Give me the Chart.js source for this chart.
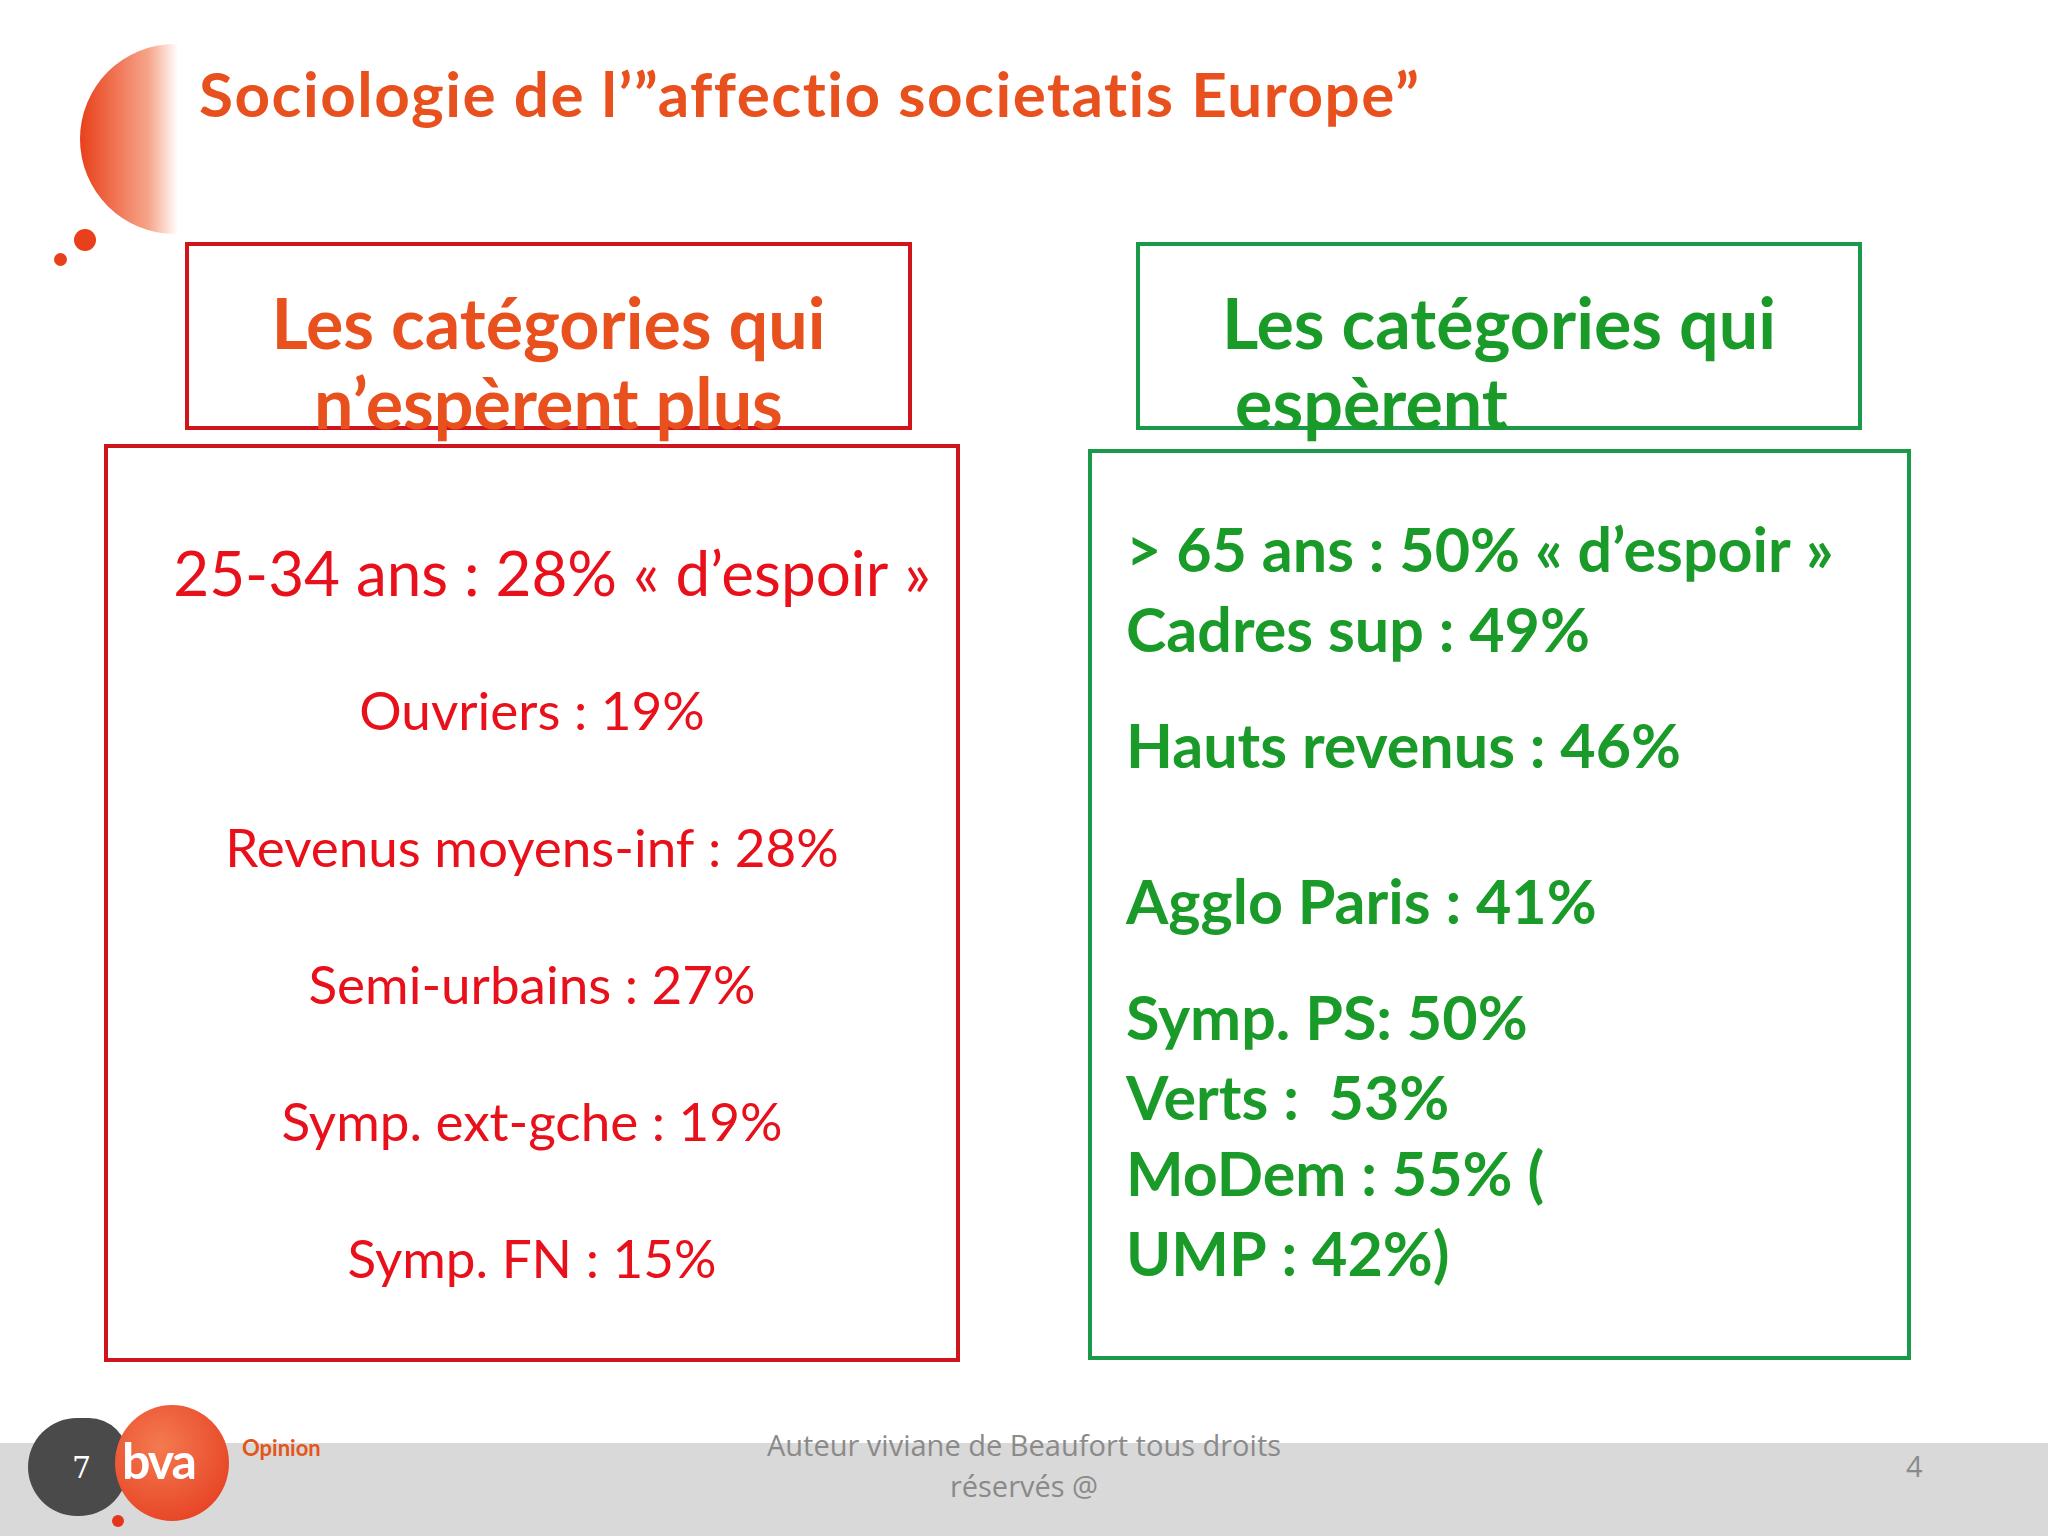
<!DOCTYPE html>
<html><head><meta charset="utf-8">
<script src="https://cdn.jsdelivr.net/npm/chart.js@4"></script>
<style>
body{margin:0;width:2048px;height:1536px;position:relative;background:#fff;font-family:Lato,"Open Sans",sans-serif;overflow:hidden}
.a{position:absolute}
.box{position:absolute;box-sizing:border-box}
</style></head><body>
<div class="a" style="left:80px;top:44px;width:98px;height:190px;border-radius:95px 0 0 95px;background:linear-gradient(90deg,#e8401a,#f6a58a 70%,#fff)"></div>
<div class="a" style="left:74px;top:229px;width:22px;height:22px;border-radius:50%;background:#e8401a"></div>
<div class="a" style="left:54px;top:253px;width:13px;height:13px;border-radius:50%;background:#e8401a"></div>
<div class="a" style="left:199px;top:56px;font-size:62px;letter-spacing:1.5px;font-weight:bold;color:#e8501e">Sociologie de l’”affectio societatis Europe”</div>

<div class="box" style="left:185px;top:242px;width:727px;height:188px;border:4px solid #d0141c"></div>
<div class="a" style="left:185px;top:282px;width:727px;text-align:center;font-size:70px;font-weight:bold;color:#e8501e;line-height:80px">Les catégories qui<br>n’espèrent plus</div>
<div class="box" style="left:1136px;top:242px;width:726px;height:188px;border:4px solid #1a9a48"></div>
<div class="a" style="left:1136px;top:282px;width:726px;text-align:center;font-size:70px;font-weight:bold;color:#1a9a28;line-height:80px">Les catégories qui</div>
<div class="a" style="left:1235px;top:362px;font-size:70px;font-weight:bold;color:#1a9a28;line-height:80px">espèrent</div>

<div class="box" style="left:104px;top:444px;width:856px;height:918px;border:4px solid #d0141c"></div>
<div class="box" style="left:1088px;top:449px;width:823px;height:911px;border:4px solid #1a9a48"></div>

<div class="a" style="left:104px;top:507px;width:856px;height:822px"><canvas id="c1"></canvas></div>
<div class="a" style="left:1088px;top:514px;width:823px;height:780px"><canvas id="c2"></canvas></div>

<div class="a" style="left:0;top:1443px;width:2048px;height:93px;background:#d9d9d9"></div>
<div class="a" style="left:0;top:1424px;width:2048px;text-align:center;font-size:29px;color:#8a8a8a;line-height:41px;font-family:'Open Sans'">Auteur viviane de Beaufort tous droits<br>réservés @</div>
<div class="a" style="left:1906px;top:1446px;font-size:29px;color:#8a8a8a;font-family:'Open Sans'">4</div>
<div class="a" style="left:28px;top:1418px;width:100px;height:98px;border-radius:50px 40px 50px 50px;background:#4a4a4a"></div>
<div class="a" style="left:72px;top:1450px;font-size:30px;color:#fff;font-family:'DejaVu Serif'">7</div>
<div class="a" style="left:115px;top:1405px;width:114px;height:116px;border-radius:50%;background:radial-gradient(circle at 40% 35%,#f47a50,#e3361a)"></div>
<div class="a" style="left:122px;top:1430px;font-size:50px;font-weight:bold;color:#fff;letter-spacing:-2px">bva</div>
<div class="a" style="left:112px;top:1515px;width:12px;height:12px;border-radius:50%;background:#e3361a"></div>
<div class="a" style="left:242px;top:1434px;font-size:22px;font-weight:bold;color:#e3561a">Opinion</div>

<script>
const leftLabels=["25-34 ans","Ouvriers","Revenus moyens-inf","Semi-urbains","Symp. ext-gche","Symp. FN"];
const leftValues=[28,19,28,27,19,15];
const leftSuffix=[" « d’espoir »","","","","",""];
const rightLabels=["> 65 ans","Cadres sup","Hauts revenus","Agglo Paris","Symp. PS","Verts","MoDem","UMP"];
const rightValues=[50,49,46,41,50,53,55,42];
const rightSep=[" : "," : "," : "," : ",": "," :  "," : "," : "];
const rightSuffix=[" « d’espoir »","","","","",""," (",")"];
const rightRow=[0,0,1,2,3,3,4,4];
const rowNames=["r1","r2","r3","r4","r5"];
const rowValues=[50,46,41,50,55];

const textPlugin={id:'txt',afterDraw(ch){
  const o=ch.options.plugins.txt, ctx=ch.ctx, meta=ch.getDatasetMeta(0);
  ctx.save();ctx.fillStyle=o.color;ctx.textBaseline='middle';
  if(o.side==='left'){
    ctx.textAlign='center';
    leftLabels.forEach((l,i)=>{
      ctx.font=(i===0?'62px':'53px')+' Lato';
      ctx.fillText(l+' : '+leftValues[i]+'%'+leftSuffix[i],ch.width/2+(i===0?20:0),meta.data[i].y);
    });
  }else{
    ctx.textAlign='left';ctx.font='bold 61px Lato';
    rightLabels.forEach((l,i)=>{
      const r=rightRow[i];
      const same=rightRow.filter(x=>x===r).length, k=rightRow.slice(0,i).filter(x=>x===r).length;
      const off=same>1?(k===0?-40:40):0;
      ctx.fillText(l+rightSep[i]+rightValues[i]+'%'+rightSuffix[i],38,meta.data[r].y+off);
    });
  }
  ctx.restore();
}};
function mk(id,labels,vals,side,color){
  new Chart(document.getElementById(id),{type:'bar',
    data:{labels:labels,datasets:[{data:vals,backgroundColor:'rgba(0,0,0,0)'}]},
    options:{indexAxis:'y',responsive:true,maintainAspectRatio:false,animation:false,
      layout:{padding:0},
      scales:{x:{display:false,min:0,max:100},y:{display:false}},
      plugins:{legend:{display:false},tooltip:{enabled:false},txt:{side:side,color:color}}},
    plugins:[textPlugin]});
}
mk('c1',leftLabels,leftValues,'left','#e8101a');
mk('c2',rowNames,rowValues,'right','#1a9a28');
</script>
</body></html>
